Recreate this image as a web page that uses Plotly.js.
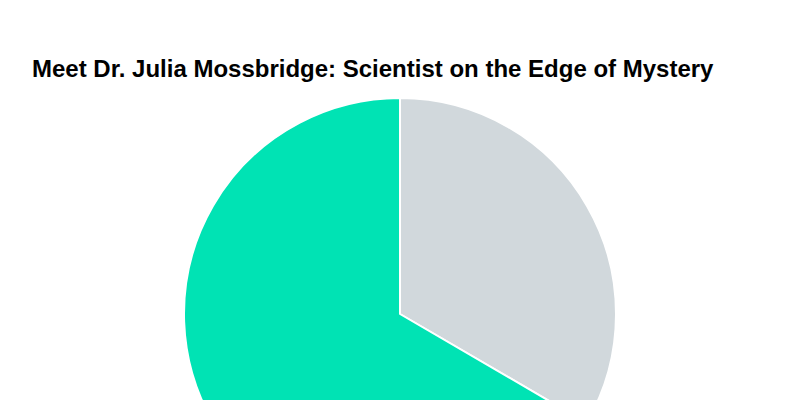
<!DOCTYPE html>
<html>
<head>
<meta charset="utf-8">
<script src="https://cdn.plot.ly/plotly-3.0.1.min.js"></script>
<style>
  body { margin: 0; background: #fff; }
  #chart { width: 800px; height: 600px; }
</style>
</head>
<body>
<div id="chart"></div>
<script>
const labels = ['Edge of Mystery', 'Mainstream Science'];
const values = [33.4, 66.6];
const colors = ['#d1d8dc', '#00e3b4'];

const data = [
  {
    type: 'pie',
    labels: labels,
    values: values,
    sort: false,
    direction: 'clockwise',
    marker: {
      colors: colors,
      line: { color: '#ffffff', width: 2 },
    },
    textinfo: 'none',
    hoverinfo: 'label+percent',
  },
];

const layout = {
  width: 800,
  height: 600,
  margin: { t: 98, b: 70, l: 80, r: 80 },
  showlegend: false,
  paper_bgcolor: '#ffffff',
  title: {
    text: '<b>Meet Dr. Julia Mossbridge: Scientist on the Edge of Mystery</b>',
    font: { family: 'Liberation Sans, Arial, sans-serif', size: 24, color: '#000000' },
    xref: 'container',
    x: 0.04,
    xanchor: 'left',
    yref: 'container',
    y: 0.885,
    yanchor: 'middle',
  },
};

Plotly.newPlot('chart', data, layout, { displayModeBar: false });
</script>
</body>
</html>
